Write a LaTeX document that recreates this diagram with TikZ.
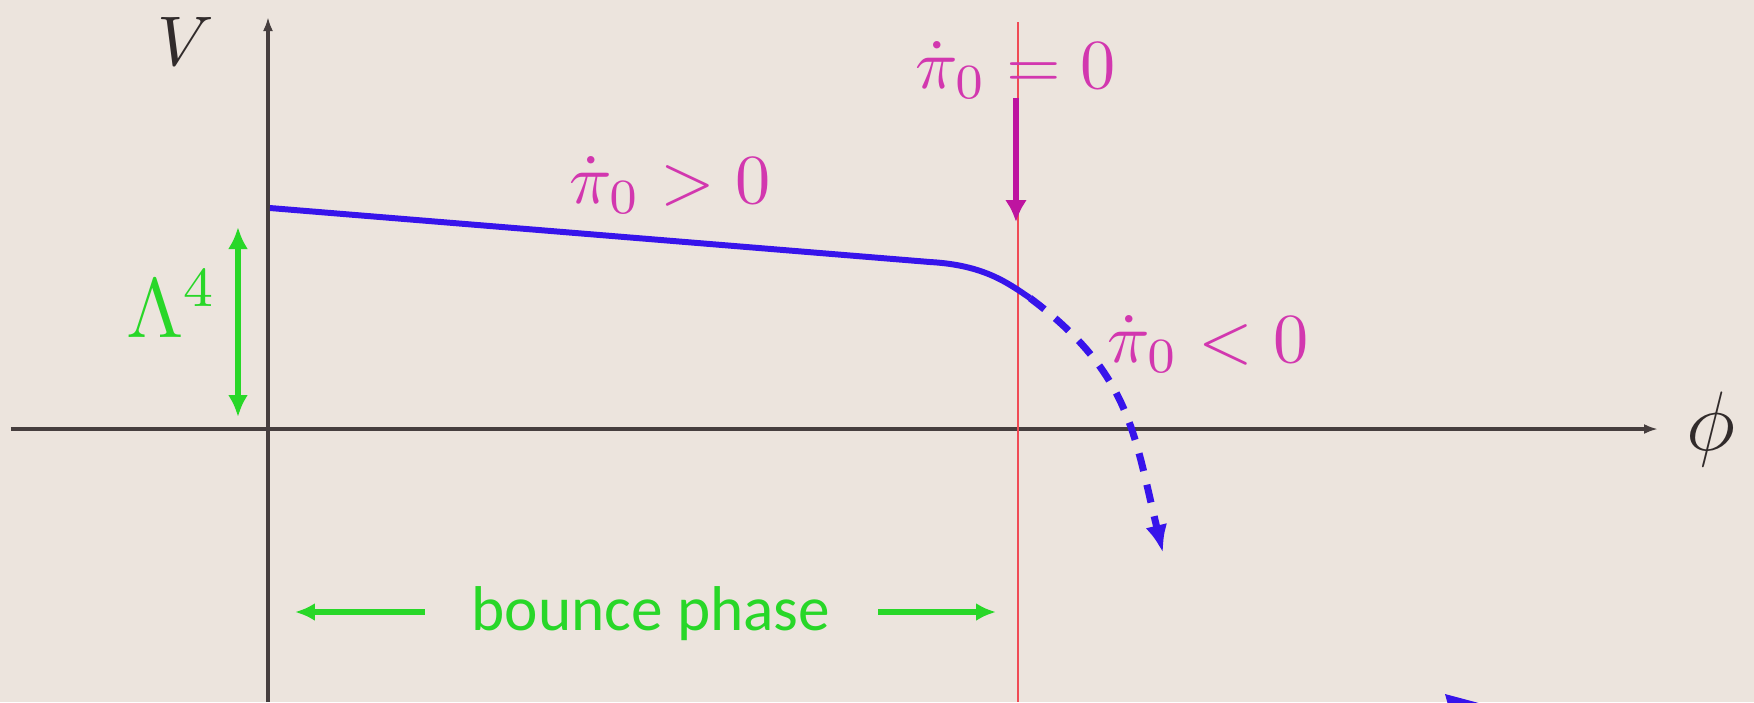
\documentclass[tikz,border=0pt]{standalone}
\usepackage{amsmath,amssymb}
\usepackage{fontspec}
\usepackage{xcolor}
\usepackage{tikz}
\usetikzlibrary{arrows.meta}
\newfontfamily\phasefont{Carlito}
\definecolor{slidebg}{RGB}{236,228,221}
\definecolor{axisgray}{RGB}{70,62,62}
\definecolor{potblue}{RGB}{55,20,235}
\definecolor{phasegreen}{RGB}{40,215,40}
\definecolor{pimag}{RGB}{210,55,175}
\definecolor{arrmag}{RGB}{190,20,160}
\definecolor{bouncered}{RGB}{240,75,85}
\newcommand{\pidot}{\dot{\pi}_0}

\begin{document}
\begin{tikzpicture}[x=1cm,y=1cm,every node/.style={inner sep=0pt},
axis/.style={-{Latex[length=0.7mm,width=0.5mm]},draw=axisgray,line width=0.45pt},
pot/.style={draw=potblue,line width=0.85pt},
grn/.style={draw=phasegreen,line width=0.8pt},
lbl/.style={text=pimag,anchor=base}]
\fill[slidebg] (-1.34,-1.365) rectangle (7.43,2.145);
\useasboundingbox (-1.34,-1.365) rectangle (7.43,2.145);
% axes
\coordinate (xl) at (-1.285,0);
\coordinate (xr) at (6.95,0);
\coordinate (yb) at (0,-1.365);
\coordinate (yt) at (0,2.06);
\draw[axis] (xl) -- (xr);
\draw[axis] (yb) -- (yt);
\node[text=axisgray!70!black,anchor=base] (V) at (-0.41,1.82) {$V$};
\node[text=axisgray!70!black,font=\large] (phi) at (7.215,0) {$\phi$};
% end of the bounce
\coordinate (rt) at (3.75,2.035);
\coordinate (rb) at (3.75,-1.365);
\draw[bouncered,line width=0.35pt] (rt) -- (rb);
% potential
\coordinate (p0) at (0.01,1.105);
\coordinate (p1) at (3.31,0.835);
\coordinate (p2) at (3.81,0.655);
\coordinate (p3) at (4.475,-0.62);
\draw[pot] (p0) -- (p1) .. controls (3.58,0.82) and (3.70,0.73) .. (p2);
\draw[pot,line width=1pt,dash pattern=on 2.6pt off 2pt,-{Latex[length=1.4mm,width=1.1mm]}] (p2) .. controls (4.31,0.28) and (4.33,-0.02) .. (p3);
% labels
\node[lbl] (pos) at (2.01,1.13) {$\pidot > 0$};
\node[lbl] (zero) at (3.74,1.705) {$\pidot = 0$};
\node[lbl] (neg) at (4.70,0.335) {$\pidot < 0$};
\coordinate (mt) at (3.74,1.655);
\coordinate (mb) at (3.74,1.035);
\draw[draw=arrmag,line width=0.8pt,-{Latex[length=1.1mm,width=1.1mm]}] (mt) -- (mb);
% height of the barrier
\coordinate (lt) at (-0.15,1.01);
\coordinate (lb) at (-0.15,0.06);
\draw[grn,{Latex[length=1.1mm,width=1mm]}-{Latex[length=1.1mm,width=1mm]}] (lt) -- (lb);
\node[text=phasegreen,font=\large,anchor=base west] (lam) at (-0.715,0.46) {$\Lambda^4$};
% bounce phase
\node[text=phasegreen,font=\phasefont\fontsize{9}{11}\selectfont,anchor=base] (bp) at (1.915,-1.005) {bounce phase};
\coordinate (bl0) at (0.785,-0.915);
\coordinate (bl1) at (0.135,-0.915);
\coordinate (br0) at (3.05,-0.915);
\coordinate (br1) at (3.64,-0.915);
\draw[grn,-{Latex[length=1mm,width=0.9mm]}] (bl0) -- (bl1);
\draw[grn,-{Latex[length=1mm,width=0.9mm]}] (br0) -- (br1);
% cut arrow at the bottom edge
\begin{scope}
\clip (-1.34,-1.365) rectangle (7.43,2.145);
\fill[potblue] (5.885,-1.325) -- (6.11,-1.385) -- (5.91,-1.415) -- cycle;
\end{scope}
\end{tikzpicture}
\end{document}
